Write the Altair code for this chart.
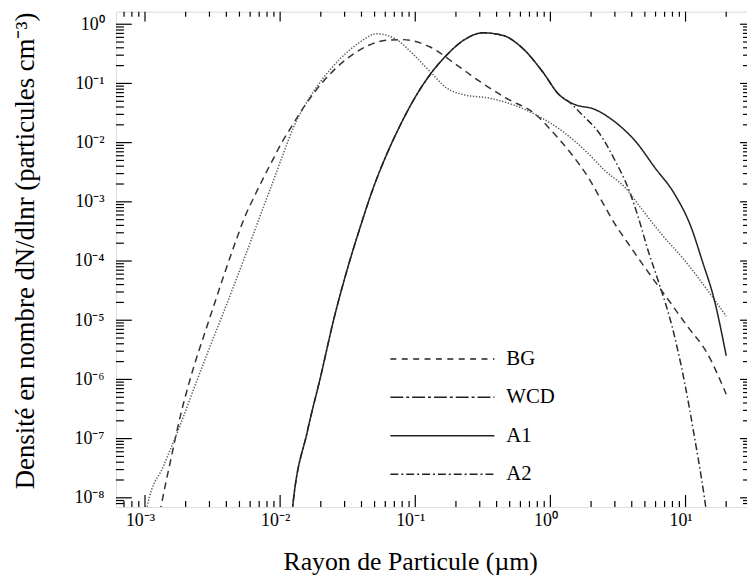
import altair as alt
import pandas as pd

SERIES = ["BG", "WCD", "A1", "A2"]

# BG (dashed)
bg_r = [1.29e-3, 1.34e-3, 1.54e-3, 1.83e-3, 2.22e-3, 2.86e-3, 3.30e-3, 3.89e-3, 4.74e-3,
        5.47e-3, 6.47e-3, 7.66e-3, 9.06e-3, 1.01e-2, 1.17e-2, 1.42e-2, 1.78e-2, 2.49e-2,
        3.13e-2, 4.38e-2, 6.14e-2, 7.94e-2, 0.110, 0.129, 0.203, 0.302, 0.472, 0.783,
        1.03, 1.44, 1.91, 2.39, 2.99, 3.75, 4.97, 7.76, 10.3, 14.4, 20.0]
bg_n = [5.62e-9, 8.91e-9, 4.07e-8, 2.45e-7, 1.26e-6, 7.59e-6, 2.04e-5, 6.31e-5, 2.29e-4,
        5.50e-4, 1.26e-3, 2.75e-3, 5.75e-3, 9.33e-3, 1.62e-2, 3.31e-2, 6.92e-2, 0.166,
        0.263, 0.427, 0.537, 0.550, 0.479, 0.412, 0.204, 0.107, 5.62e-2, 2.95e-2,
        1.55e-2, 6.31e-3, 2.57e-3, 1.05e-3, 4.27e-4, 2.00e-4, 7.94e-5, 1.95e-5, 7.94e-6,
        2.82e-6, 5.62e-7]

# WCD (dotted)
wcd_r = [1.01e-3, 1.04e-3, 1.38e-3, 1.80e-3, 2.35e-3, 2.94e-3, 3.69e-3, 4.61e-3, 5.78e-3,
         7.24e-3, 9.06e-3, 1.07e-2, 1.27e-2, 1.59e-2, 1.99e-2, 2.79e-2, 3.91e-2, 5.18e-2,
         7.38e-2, 9.77e-2, 0.129, 0.171, 0.228, 0.356, 0.528, 0.783, 1.23, 1.82, 2.55,
         3.57, 4.73, 6.61, 9.77, 15.5, 20.0]
wcd_n = [5.01e-9, 7.24e-9, 3.55e-8, 1.58e-7, 7.94e-7, 3.02e-6, 1.12e-5, 4.17e-5, 1.62e-4,
         6.46e-4, 2.51e-3, 7.08e-3, 1.91e-2, 5.01e-2, 0.107, 0.263, 0.501, 0.692,
         0.537, 0.302, 0.158, 8.32e-2, 6.46e-2, 5.62e-2, 4.37e-2, 2.95e-2, 1.55e-2, 7.24e-3,
         3.31e-3, 1.74e-3, 7.59e-4, 2.88e-4, 1.05e-4, 2.63e-5, 1.17e-5]

# A1 (solid)
a1_r = [1.22e-2, 1.24e-2, 1.59e-2, 2.00e-2, 2.49e-2, 3.13e-2, 3.91e-2, 4.90e-2, 6.14e-2,
        7.69e-2, 9.71e-2, 0.126, 0.171, 0.228, 0.318, 0.447, 0.625, 0.875, 1.16, 1.37,
        1.53, 2.14, 2.69, 3.39, 4.24, 5.92, 8.30, 11.0, 13.3, 16.3, 20.0]
a1_n = [5.01e-9, 7.24e-9, 1.32e-7, 1.15e-6, 1.02e-5, 7.08e-5, 3.72e-4, 1.74e-3, 6.31e-3,
        1.91e-2, 5.25e-2, 0.132, 0.302, 0.537, 0.716, 0.646, 0.389, 0.158, 6.46e-2, 4.90e-2,
        4.37e-2, 3.63e-2, 2.69e-2, 1.78e-2, 1.07e-2, 3.80e-3, 1.35e-3, 3.72e-4, 1.00e-4,
        2.24e-5, 2.51e-6]

# A2 (dash-dot)
a2_r = [1.22e-2, 1.24e-2, 1.59e-2, 2.00e-2, 2.49e-2, 3.13e-2, 3.91e-2, 4.90e-2, 6.14e-2,
        7.69e-2, 9.71e-2, 0.126, 0.171, 0.228, 0.318, 0.447, 0.625, 0.875, 1.16, 1.37,
        1.72, 2.28, 3.02, 3.78, 4.47, 5.28, 6.31, 7.94, 9.84, 11.6, 13.8, 14.5]
a2_n = [5.01e-9, 7.24e-9, 1.32e-7, 1.15e-6, 1.02e-5, 7.08e-5, 3.72e-4, 1.74e-3, 6.31e-3,
        1.91e-2, 5.25e-2, 0.132, 0.302, 0.537, 0.716, 0.646, 0.389, 0.158, 6.46e-2, 4.90e-2,
        2.95e-2, 1.48e-2, 4.90e-3, 1.66e-3, 5.50e-4, 1.51e-4, 4.47e-5, 7.94e-6, 8.91e-7,
        1.12e-7, 1.00e-8, 4.47e-9]

X_DOMAIN = [6.1e-4, 28.5]
Y_DOMAIN = [7.0e-9, 1.63]

X_MAJOR = [1e-3, 1e-2, 1e-1, 1.0, 10.0]
X_LABELS = ["10⁻³", "10⁻²", "10⁻¹", "10⁰", "10¹"]
X_MINOR = [7e-4, 8e-4, 9e-4] + [k * d for d in (1e-3, 1e-2, 1e-1, 1.0) for k in range(2, 10)] + [20.0]

Y_MAJOR = [1e-8, 1e-7, 1e-6, 1e-5, 1e-4, 1e-3, 1e-2, 1e-1, 1.0]
Y_LABELS = ["10⁻⁸", "10⁻⁷", "10⁻⁶", "10⁻⁵", "10⁻⁴", "10⁻³", "10⁻²", "10⁻¹", "10⁰"]
Y_MINOR = [8e-9, 9e-9] + [k * d for d in (1e-8, 1e-7, 1e-6, 1e-5, 1e-4, 1e-3, 1e-2, 1e-1) for k in range(2, 10)]

PLOT_DASH = [[7, 5], [1.3, 1.7], [1, 0], [7, 3, 1.5, 3]]
LEGEND_DASH = [[6, 5.5], [13, 3, 3, 3], [1, 0], [8, 3, 2, 3]]
COLORS = ["#333333", "#555555", "#222222", "#2a2a2a"]

FONT = "Liberation Serif"
W, H = 637, 500

rows = []
for name, rs, ns in [("A2", a2_r, a2_n), ("BG", bg_r, bg_n), ("WCD", wcd_r, wcd_n), ("A1", a1_r, a1_n)]:
    for r, n in zip(rs, ns):
        rows.append({"series": name, "r": r, "n": n})
df = pd.DataFrame(rows)

x_scale = alt.Scale(type="log", domain=X_DOMAIN, nice=False)
y_scale = alt.Scale(type="log", domain=Y_DOMAIN, nice=False)

x_label_expr = "[" + ",".join("'%s'" % s for s in X_LABELS) + "][round(log(datum.value)/LN10) + 3]"
y_label_expr = "[" + ",".join("'%s'" % s for s in Y_LABELS) + "][round(log(datum.value)/LN10) + 8]"

x_axis = alt.Axis(values=X_MAJOR, labelExpr=x_label_expr, ticks=False, tickSize=0, domain=False,
                  grid=False, labelFont=FONT, labelFontSize=18, labelColor="black",
                  labelPadding=5, labelOffset=-5, labelFlush=False, labelOverlap=False,
                  title="Rayon de Particule (µm)", titleFont=FONT, titleFontSize=26,
                  titleFontWeight="normal", titleColor="black", titleX=297, titleY=63,
                  titleBaseline="alphabetic", titleAlign="center")
y_axis = alt.Axis(values=Y_MAJOR, labelExpr=y_label_expr, ticks=False, tickSize=0, domain=False,
                  grid=False, labelFont=FONT, labelFontSize=18, labelColor="black",
                  labelPadding=12, labelFlush=False, labelOverlap=False,
                  title="Densité en nombre dN/dlnr (particules cm⁻³)", titleFont=FONT,
                  titleFontSize=27, titleFontWeight="normal", titleColor="black",
                  titleX=-83, titleY=241, titleBaseline="alphabetic", titleAlign="center",
                  titleAngle=270)

X_ENC = alt.X("r:Q", scale=x_scale, axis=x_axis)
Y_ENC = alt.Y("n:Q", scale=y_scale, axis=y_axis)

lines = alt.Chart(df).mark_line(clip=True, strokeWidth=1.5, interpolate="monotone").encode(
    x=X_ENC,
    y=Y_ENC,
    strokeDash=alt.StrokeDash("series:N", scale=alt.Scale(domain=SERIES, range=PLOT_DASH), legend=None),
    color=alt.Color("series:N", scale=alt.Scale(domain=SERIES, range=COLORS), legend=None),
    detail="series:N",
)

legend_layer = alt.Chart(df).transform_filter("false").mark_line(strokeWidth=1.5, color="#222222").encode(
    x=X_ENC,
    y=Y_ENC,
    strokeDash=alt.StrokeDash(
        "series:N",
        scale=alt.Scale(domain=SERIES, range=LEGEND_DASH),
        legend=alt.Legend(title=None, orient="none", legendX=318, legendY=339,
                          symbolType="M-5,0H5", symbolSize=441, symbolStrokeWidth=1.5,
                          symbolStrokeColor="#222222", labelFont=FONT, labelFontSize=21,
                          labelColor="black", labelOffset=53, rowPadding=16.8, padding=0,
                          labelLimit=0),
    ),
)

xmaj = pd.DataFrame({"r": X_MAJOR})
xmin = pd.DataFrame({"r": X_MINOR})
ymaj = pd.DataFrame({"n": Y_MAJOR})
ymin = pd.DataFrame({"n": Y_MINOR})


def xticks(data, y0, y1):
    return alt.Chart(data).mark_rule(color="black", strokeWidth=1.2).encode(
        x=X_ENC, y=alt.value(y0), y2=alt.value(y1))


def yticks(data, x0, x1):
    return alt.Chart(data).mark_rule(color="black", strokeWidth=1.2).encode(
        y=Y_ENC, x=alt.value(x0), x2=alt.value(x1))


ticks = [
    xticks(xmaj, H, H - 12), xticks(xmin, H, H - 6),
    xticks(xmaj, 0, 10), xticks(xmin, 0, 5),
    yticks(ymaj, 0, 16), yticks(ymin, 0, 8),
    yticks(ymaj, W, W - 7), yticks(ymin, W, W - 4),
]

chart = alt.layer(lines, legend_layer, *ticks).resolve_scale(
    strokeDash="independent"
).properties(
    width=W, height=H, autosize="none",
    padding={"left": 109, "top": 1, "right": 0, "bottom": 71},
).configure_view(stroke="black", strokeWidth=1.5).configure(background="white")

chart.save("out.html", embed_options={"renderer": "svg", "actions": False})
